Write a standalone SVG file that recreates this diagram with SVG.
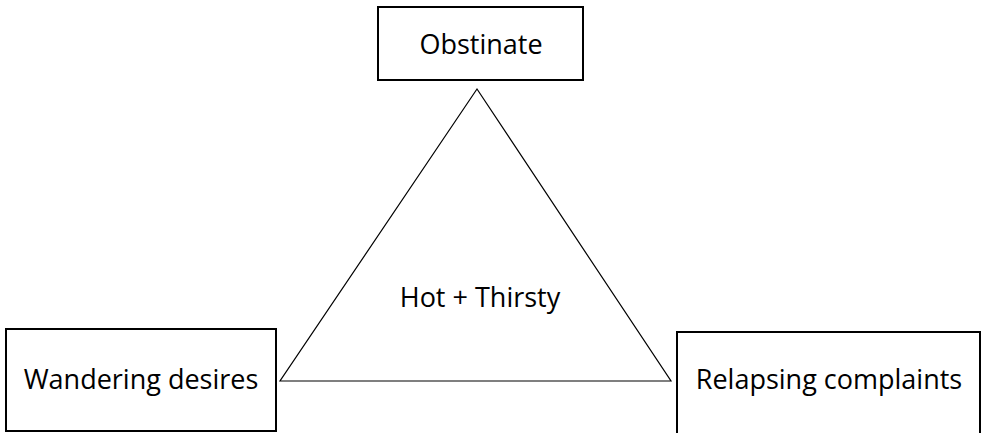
<svg xmlns="http://www.w3.org/2000/svg" width="982" height="433" viewBox="0 0 982 433">
<style>
.box{fill:#fff;stroke:#000;stroke-width:2}
.tri{fill:#fff;stroke:#000;stroke-width:1.2}
.lbl{font-family:"Open Sans","Liberation Sans",sans-serif;font-size:27px;fill:#000;text-anchor:middle}
</style>
<rect width="982" height="433" fill="#fff"/>
<g id="connectors">
<polygon class="tri" points="477,89 280,381 671,381"/>
</g>
<g id="node-obstinate">
<rect class="box" x="378" y="7" width="205" height="73"/>
<text class="lbl" x="481" y="54">Obstinate</text>
</g>
<g id="node-center">
<text class="lbl" x="480" y="307">Hot + Thirsty</text>
</g>
<g id="node-wandering">
<rect class="box" x="6" y="329" width="270" height="102"/>
<text class="lbl" x="141" y="389">Wandering desires</text>
</g>
<g id="node-relapsing">
<rect class="box" x="677" y="332" width="303" height="110"/>
<text class="lbl" x="829" y="389">Relapsing complaints</text>
</g>
</svg>
